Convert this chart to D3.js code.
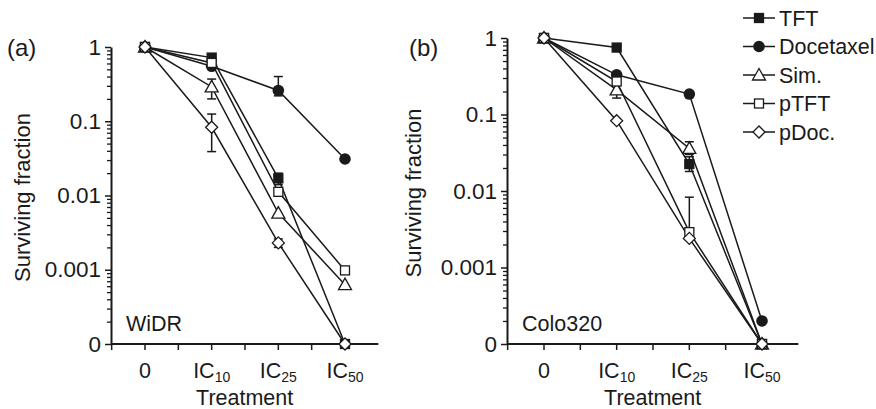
<!DOCTYPE html>
<html>
<head>
<meta charset="utf-8">
<script src="https://cdn.jsdelivr.net/npm/d3@7"></script>
<style>
  body { margin: 0; background: #fff; }
  svg { font-family: "Liberation Sans", Arial, sans-serif; }
</style>
</head>
<body>
<svg id="chart" width="876" height="409"></svg>
<script>
const categories = ["0", "IC10", "IC25", "IC50"];
const seriesNames = ["TFT", "Docetaxel", "Sim.", "pTFT", "pDoc."];
const seriesShapes = ["fsquare", "fcircle", "triangle", "square", "diamond"];

// value 1e-4 is plotted on the "0" line
const ZERO = 1e-4;

const widrValues = [
  [1, 0.72, 0.017, ZERO],
  [1, 0.55, 0.26, 0.031],
  [1, 0.29, 0.0058, 0.00063],
  [1, 0.61, 0.0112, 0.00098],
  [1, 0.083, 0.0023, ZERO]
];
const widrErrors = [
  [null, null, [0.014, 0.02], null],
  [null, null, [0.22, 0.4], null],
  [null, [0.2, 0.37], null, null],
  [null, null, null, null],
  [null, [0.039, 0.125], [0.002, 0.0026], null]
];

const coloValues = [
  [1, 0.75, 0.0225, ZERO],
  [1, 0.33, 0.185, 0.0002],
  [1, 0.21, 0.036, ZERO],
  [1, 0.27, 0.0029, ZERO],
  [1, 0.083, 0.0024, ZERO]
];
const coloErrors = [
  [null, null, [0.018, 0.028], null],
  [null, null, null, null],
  [null, [0.164, 0.25], [0.03, 0.044], null],
  [null, null, [0.0029, 0.0083], null],
  [null, null, null, null]
];

const yMajor = [1, 0.1, 0.01, 0.001, ZERO];
const yLabels = ["1", "0.1", "0.01", "0.001", "0"];

const svg = d3.select("#chart");
const ink = "#1a1a1a";
const fs = 21.5;

function drawMarker(g, shape, x, y) {
  if (shape === "fsquare" || shape === "square") {
    g.append("rect").attr("x", x - 4.5).attr("y", y - 4.5).attr("width", 9).attr("height", 9)
      .attr("fill", shape === "fsquare" ? ink : "#fff").attr("stroke", ink).attr("stroke-width", 1.3);
  } else if (shape === "fcircle") {
    g.append("circle").attr("cx", x).attr("cy", y).attr("r", 5.8).attr("fill", ink);
  } else if (shape === "triangle") {
    g.append("path").attr("d", `M${x},${y - 6.5}L${x + 6.5},${y + 5}L${x - 6.5},${y + 5}Z`)
      .attr("fill", "#fff").attr("stroke", ink).attr("stroke-width", 1.3);
  } else {
    g.append("path").attr("d", `M${x},${y - 6}L${x + 6},${y}L${x},${y + 6}L${x - 6},${y}Z`)
      .attr("fill", "#fff").attr("stroke", ink).attr("stroke-width", 1.3);
  }
}

function drawPanel(opt) {
  const g = svg.append("g");
  const x = d3.scalePoint().domain(categories).range([opt.x0, opt.x3]);
  const step = x.step();
  const y = d3.scaleLog().domain([ZERO, 1]).range([344, opt.yTop]);

  // y axis
  const minor = [];
  for (let e = -4; e < 0; e++) {
    for (let k = 2; k <= 9; k++) minor.push(k * Math.pow(10, e));
  }
  g.append("g").attr("transform", `translate(${opt.axisX},0)`)
    .call(d3.axisLeft(y).tickValues(minor).tickSize(4).tickFormat(""))
    .call(a => a.select(".domain").remove())
    .selectAll("line").attr("stroke", ink).attr("stroke-width", 1.3);
  const ya = g.append("g").attr("transform", `translate(${opt.axisX},0)`)
    .call(d3.axisLeft(y).tickValues(yMajor).tickSize(6).tickSizeOuter(0)
      .tickFormat((d, i) => yLabels[i]));
  ya.select(".domain").attr("stroke", ink).attr("stroke-width", 2);
  ya.selectAll("line").attr("stroke", ink).attr("stroke-width", 1.5);
  ya.selectAll("text").attr("font-size", 22.5).attr("fill", ink).attr("dx", -1);

  // x axis
  const xTicks = [];
  for (let i = 0; i <= 7; i++) xTicks.push(opt.x0 - step / 2 + i * step / 2);
  const xa = g.append("g").attr("transform", "translate(0,344)");
  xa.append("line").attr("x1", opt.axisX).attr("x2", opt.x3 + step / 2)
    .attr("stroke", ink).attr("stroke-width", 2);
  xa.selectAll(".xt").data(xTicks).join("line").attr("class", "xt")
    .attr("x1", d => d).attr("x2", d => d).attr("y1", 0).attr("y2", 6)
    .attr("stroke", ink).attr("stroke-width", 1.5);
  const lab = xa.selectAll(".xl").data(categories).join("text").attr("class", "xl")
    .attr("x", d => x(d)).attr("y", 34).attr("text-anchor", "middle")
    .attr("font-size", fs).attr("fill", ink);
  lab.each(function (d) {
    const t = d3.select(this);
    if (d === "0") { t.text("0"); return; }
    t.append("tspan").text("IC");
    t.append("tspan").attr("font-size", 14).attr("dy", 4).text(d.slice(2));
  });

  g.append("text").attr("x", (opt.axisX + opt.x3 + step / 2) / 2).attr("y", 405)
    .attr("text-anchor", "middle").attr("font-size", fs).attr("fill", ink).text("Treatment");
  g.append("text").attr("transform", `translate(${opt.labX},${(344 + opt.yTop) / 2 + 2}) rotate(-90)`)
    .attr("text-anchor", "middle").attr("font-size", 22).attr("fill", ink).text("Surviving fraction");
  g.append("text").attr("x", opt.tagX).attr("y", 56).attr("font-size", 24).attr("fill", ink).text(opt.tag);
  g.append("text").attr("x", opt.axisX + 15).attr("y", 331).attr("font-size", fs).attr("fill", ink).text(opt.cell);

  const line = d3.line().x((d, i) => x(categories[i])).y(d => y(d));
  opt.values.forEach((vals) => {
    g.append("path").attr("d", line(vals)).attr("fill", "none")
      .attr("stroke", ink).attr("stroke-width", 1.5);
  });
  opt.errors.forEach((errs) => {
    errs.forEach((e, i) => {
      if (!e) return;
      const cx = x(categories[i]);
      g.append("line").attr("x1", cx).attr("x2", cx).attr("y1", y(e[0])).attr("y2", y(e[1]))
        .attr("stroke", ink).attr("stroke-width", 1.5);
      [e[0], e[1]].forEach(v => g.append("line").attr("x1", cx - 4.5).attr("x2", cx + 4.5)
        .attr("y1", y(v)).attr("y2", y(v)).attr("stroke", ink).attr("stroke-width", 1.5));
    });
  });
  opt.values.forEach((vals, s) => {
    vals.forEach((v, i) => drawMarker(g, seriesShapes[s], x(categories[i]), y(v)));
  });
}

drawPanel({ axisX: 111, x0: 145, x3: 345, yTop: 47, values: widrValues, errors: widrErrors,
  tag: "(a)", tagX: 7, cell: "WiDR", labX: 30 });
drawPanel({ axisX: 507, x0: 544, x3: 762, yTop: 38, values: coloValues, errors: coloErrors,
  tag: "(b)", tagX: 409, cell: "Colo320", labX: 421 });

// legend
const legend = svg.append("g");
seriesNames.forEach((name, i) => {
  const ly = 18 + i * 28.5;
  legend.append("line").attr("x1", 743).attr("x2", 775).attr("y1", ly).attr("y2", ly)
    .attr("stroke", ink).attr("stroke-width", 1.5);
  drawMarker(legend, seriesShapes[i], 759, ly);
  legend.append("text").attr("x", 779).attr("y", ly + 7.5).attr("font-size", fs)
    .attr("fill", ink).text(name);
});
</script>
</body>
</html>
